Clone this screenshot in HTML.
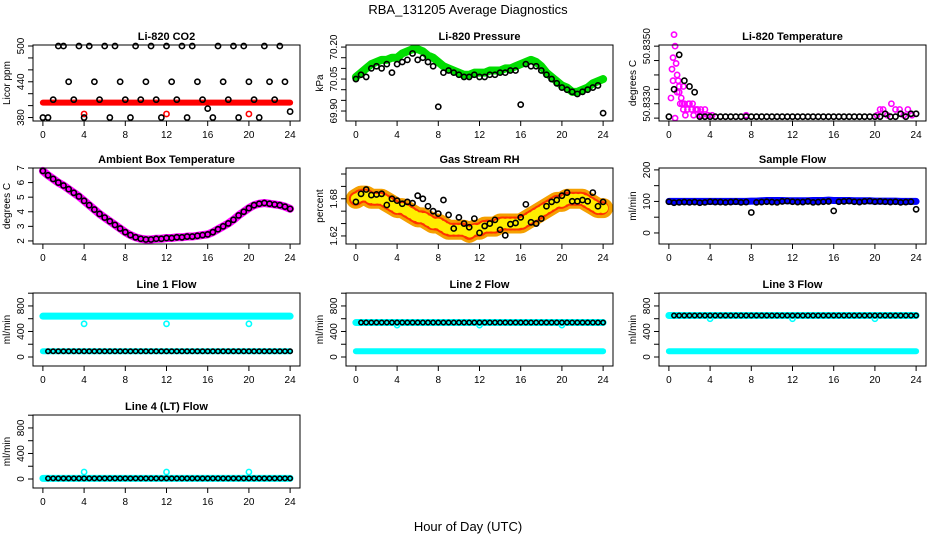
<!DOCTYPE html>
<html><head><meta charset="utf-8"><style>
body{margin:0;background:#fff}
svg{display:block;font-family:"Liberation Sans",sans-serif}
</style></head><body>
<svg id="c" width="936" height="540" viewBox="0 0 936 540">
<text x="468" y="14" text-anchor="middle" font-size="13">RBA_131205  Average Diagnostics</text>
<text x="468" y="531" text-anchor="middle" font-size="13">Hour of Day (UTC)</text>
</svg>
<script>
const HOURS=[0,0.5,1,1.5,2,2.5,3,3.5,4,4.5,5,5.5,6,6.5,7,7.5,8,8.5,9,9.5,10,10.5,11,11.5,12,12.5,13,13.5,14,14.5,15,15.5,16,16.5,17,17.5,18,18.5,19,19.5,20,20.5,21,21.5,22,22.5,23,23.5,24];
const X_TICKS=[0,4,8,12,16,20,24];
// CO2
const co2Black=[380,380,410,500,500,440,410,500,380,500,440,410,500,380,500,440,410,380,500,410,440,500,410,380,500,440,410,500,380,500,440,410,395,380,500,440,410,500,380,500,440,410,380,500,440,410,500,440,390];
const co2RedH=[0,24];const co2RedV=[405,405];
const co2OutH=[4,12,20];const co2OutV=[386,386,386];
// Pressure
const presGreen=[70.06,70.08,70.10,70.12,70.13,70.14,70.14,70.15,70.15,70.17,70.18,70.19,70.19,70.18,70.16,70.15,70.13,70.11,70.10,70.09,70.08,70.07,70.07,70.08,70.08,70.08,70.09,70.09,70.09,70.10,70.10,70.11,70.12,70.13,70.14,70.13,70.11,70.08,70.06,70.04,70.02,70.01,69.99,69.99,70.00,70.01,70.03,70.04,70.05];
const presBlack=[70.05,70.07,70.06,70.10,70.11,70.10,70.12,70.08,70.12,70.13,70.14,70.17,70.14,70.15,70.13,70.11,69.92,70.08,70.09,70.08,70.07,70.06,70.06,70.07,70.06,70.06,70.07,70.07,70.08,70.08,70.09,70.09,69.93,70.12,70.11,70.11,70.09,70.07,70.05,70.03,70.01,70.00,69.99,69.98,69.99,70.00,70.01,70.02,69.89];
// Li-820 temperature
const tempMagH=[0.2,0.3,0.4,0.5,0.6,0.7,0.8,0.9,1.0,1.1,1.2,1.3,1.4,1.5,1.6,1.8,2.0,2.2,2.4,2.6,2.8,3.0,3.2,3.5,3.8,4.2,7.5,20.2,20.5,20.8,21.2,21.6,22.0,22.4,22.8,23.2,23.6,0.6,1.0,1.4,1.9,2.3,2.7,3.1,0.4,0.8];
const tempMagV=[50.8332,50.8342,50.8346,50.8354,50.8350,50.8344,50.8340,50.8338,50.8334,50.8330,50.8332,50.8330,50.8328,50.8330,50.8326,50.8328,50.8330,50.8328,50.8326,50.8328,50.8328,50.8326,50.8326,50.8328,50.8326,50.8326,50.8326,50.8326,50.8328,50.8328,50.8326,50.8330,50.8328,50.8328,50.8326,50.8328,50.8326,50.8325,50.8336,50.8336,50.8330,50.8330,50.8328,50.8328,50.8338,50.8334];
const tempBlack=[50.83255,50.8335,50.8347,50.8338,50.8336,50.8334,50.83255,50.83255,50.83255,50.83255,50.83255,50.83255,50.83255,50.83255,50.83255,50.83255,50.83255,50.83255,50.83255,50.83255,50.83255,50.83255,50.83255,50.83255,50.83255,50.83255,50.83255,50.83255,50.83255,50.83255,50.83255,50.83255,50.83255,50.83255,50.83255,50.83255,50.83255,50.83255,50.83255,50.83255,50.83255,50.83255,50.83265,50.83255,50.83255,50.83265,50.83255,50.83265,50.83265];
// Ambient box temperature
const ambient=[6.8,6.5,6.25,6.0,5.8,5.55,5.3,5.05,4.75,4.45,4.15,3.85,3.6,3.35,3.1,2.85,2.6,2.4,2.25,2.15,2.1,2.1,2.15,2.15,2.2,2.2,2.25,2.25,2.3,2.3,2.35,2.4,2.45,2.6,2.8,3.0,3.2,3.45,3.75,4.0,4.25,4.45,4.55,4.6,4.55,4.5,4.45,4.35,4.2];
// Gas stream RH
const rhBand=[1.68,1.685,1.685,1.68,1.68,1.68,1.675,1.67,1.665,1.665,1.66,1.655,1.65,1.65,1.645,1.64,1.64,1.635,1.63,1.63,1.63,1.63,1.625,1.63,1.63,1.635,1.635,1.635,1.64,1.64,1.64,1.64,1.64,1.645,1.65,1.655,1.66,1.665,1.67,1.675,1.675,1.68,1.68,1.68,1.68,1.675,1.67,1.665,1.665];
const rhBlack=[1.675,1.688,1.695,1.686,1.687,1.688,1.67,1.68,1.677,1.672,1.675,1.673,1.685,1.68,1.668,1.66,1.656,1.678,1.654,1.632,1.65,1.640,1.634,1.648,1.625,1.636,1.64,1.646,1.630,1.621,1.639,1.641,1.650,1.671,1.642,1.640,1.648,1.668,1.675,1.678,1.685,1.690,1.676,1.676,1.678,1.676,1.690,1.668,1.675];
// Sample flow
const sampleBlue=[100,100,100,100,100,100,100,100,100,100,100,100,100,100,100,100,101,101,102,103,103,103,103,102,102,102,102,102,103,103,103,104,103,103,103,103,102,102,102,102,101,101,101,101,101,100,100,100,100];
const sampleBlack=[99,96,97,98,97,98,96,97,99,98,98,97,98,99,97,98,65,97,98,99,98,97,100,101,99,98,98,100,97,98,99,100,70,99,100,101,99,98,100,101,99,100,99,98,99,97,98,99,75];
// Line flows
const l1Hi=[640,640];const l1Lo=[90,90];const l1Black=90;
const l1OutV=[520,520,520];
const l2Hi=[540,540];const l2Lo=[90,90];const l2Black=540;const l2OutV=[500,500,500];
const l3Hi=[650,650];const l3Lo=[90,90];const l3Black=650;const l3OutV=[600,600,600];
const l4Hi=[10,10];const l4Black=10;const l4OutV=[110,110,110];
const OUT_H=[4,12,20];const BAND_H=[0,24];

const svg=document.getElementById('c');
const NS='http://www.w3.org/2000/svg';
function mk(tag,attrs,parent){const e=document.createElementNS(NS,tag);for(const k in attrs)e.setAttribute(k,attrs[k]);(parent||svg).appendChild(e);return e;}
const COLS=[33,346,659],W=267;
const ROWS=[[45,121],[168,244],[293,366],[415,488]];

function panel(col,row,title,ylab,yTop,yBot,ticks,labels,name){
  const L=COLS[col],T=ROWS[row][0],B=ROWS[row][1];
  const g=mk('g',{});
  
  
  const xs=h=>L+(h+0.96)/25.92*W;
  const ys=v=>B-(v-yBot)/(yTop-yBot)*(B-T);
  const pl=mk('g',{},g);
  
  
  const t=mk('text',{x:L+W/2,y:T-5,'text-anchor':'middle','font-size':11,'font-weight':'bold'},g);
  t.textContent=title;
  
  
  const box=mk('rect',{x:L,y:T,width:W,height:B-T,fill:'none',stroke:'#000','stroke-width':1},g);
  
  
  X_TICKS.forEach(h=>{
    mk('line',{x1:xs(h),x2:xs(h),y1:B,y2:B+5,stroke:'#000'},g);
    const tl=mk('text',{x:xs(h),y:B+17,'text-anchor':'middle','font-size':10},g);
    tl.textContent=h;
    
    
  });
  ticks.forEach(v=>{mk('line',{x1:L-5,x2:L,y1:ys(v),y2:ys(v),stroke:'#000'},g);});
  labels.forEach(v=>{
    const y=ys(v),x=L-9;
    const tl=mk('text',{x:x,y:y,'text-anchor':'middle','font-size':10,transform:`rotate(-90 ${x} ${y})`},g);
    tl.textContent=v;
    
    
  });
  const yl=mk('text',{x:L-23,y:(T+B)/2,'text-anchor':'middle','font-size':10,transform:`rotate(-90 ${L-23} ${(T+B)/2})`},g);
  yl.textContent=ylab;
  
  
  return {xs,ys,g:pl};
}
function band(p,hs,vs,color,w,name){
  const pts=hs.map((h,i)=>p.xs(h)+','+p.ys(vs[i])).join(' ');
  const e=mk('polyline',{points:pts,fill:'none',stroke:color,'stroke-width':w,'stroke-linejoin':'round','stroke-linecap':'round'},p.g);
  
  
  return e;
}
function pts(p,hs,vs,color,name,r){
  hs.forEach((h,i)=>{
    const e=mk('circle',{cx:p.xs(h),cy:p.ys(vs[i]),r:r||2.6,fill:'none',stroke:color,'stroke-width':1.6},p.g);
    
    
  });
}
function step(a,b,s){const r=[];for(let v=a;v<=b+1e-9;v+=s)r.push(+v.toFixed(6));return r;}

// 1 CO2
let p=panel(0,0,'Li-820 CO2','Licor ppm',501.7,374.2,step(380,500,20),[380,440,500],'co2');
band(p,co2RedH,co2RedV,'#ff0000',6,'co2-band');
pts(p,co2OutH,co2OutV,'#ff0000','co2-outlier');
pts(p,HOURS,co2Black,'#000','co2-point');
// 2 Pressure
p=panel(1,0,'Li-820 Pressure','kPa',70.2097,69.8532,step(69.9,70.2,0.05),['69.90','70.05','70.20'],'pressure');
band(p,HOURS,presGreen,'#00dd00',8,'pressure-band');
pts(p,HOURS,presBlack,'#000','pressure-point');
// 3 Li-820 Temp
p=panel(2,0,'Li-820 Temperature','degrees C',50.83504,50.8324,step(50.8325,50.835,0.0005),['50.8330','50.8350'],'li820-temp');
pts(p,tempMagH,tempMagV,'#ff00ff','li820-temp-magenta-point');
pts(p,HOURS,tempBlack,'#000','li820-temp-point');
// 4 Ambient
p=panel(0,1,'Ambient Box Temperature','degrees C',7,1.79,[2,3,4,5,6,7],[2,3,4,5,6,7],'ambient');
band(p,HOURS,ambient,'#ff00ff',8,'ambient-band');
pts(p,HOURS,ambient,'#000','ambient-point');
// 5 RH
p=panel(1,1,'Gas Stream RH','percent',1.7297,1.607,step(1.62,1.72,0.02),['1.62','1.68'],'rh');
band(p,HOURS,rhBand,'#f5a000',20,'rh-band');
band(p,HOURS,rhBand,'#ff3300',14,'rh-band-red').setAttribute('stroke-dasharray','1 3');
band(p,HOURS,rhBand,'#ffee00',10,'rh-band-yellow').setAttribute('stroke-dasharray','1 4');
pts(p,HOURS,rhBlack,'#000','rh-point');
// 6 Sample flow
p=panel(2,1,'Sample Flow','ml/min',206,-35,[0,50,100,150,200],[0,100,200],'sample-flow');
band(p,HOURS,sampleBlue,'#0000ff',7,'sample-flow-band');
pts(p,HOURS,sampleBlack,'#000','sample-flow-point');
// 7-10 line flows
const FT=[0,200,400,600,800,1000],FL=[0,400,800];
function flow(col,row,title,name,hi,lo,blackV,outV){
  const q=panel(col,row,title,'ml/min',1003,-141,FT,FL,name);
  band(q,BAND_H,hi,'#00ffff',7,name+'-band-high');
  if(lo)band(q,BAND_H,lo,'#00ffff',6,name+'-band-low');
  pts(q,OUT_H,outV,'#00ffff',name+'-outlier');
  pts(q,HOURS.slice(1),HOURS.slice(1).map(()=>blackV),'#000',name+'-point',2.2);
}
flow(0,2,'Line 1 Flow','line1-flow',l1Hi,l1Lo,l1Black,l1OutV);
flow(1,2,'Line 2 Flow','line2-flow',l2Hi,l2Lo,l2Black,l2OutV);
flow(2,2,'Line 3 Flow','line3-flow',l3Hi,l3Lo,l3Black,l3OutV);
flow(0,3,'Line 4 (LT) Flow','line4-flow',l4Hi,null,l4Black,l4OutV);
</script>
</body></html>
